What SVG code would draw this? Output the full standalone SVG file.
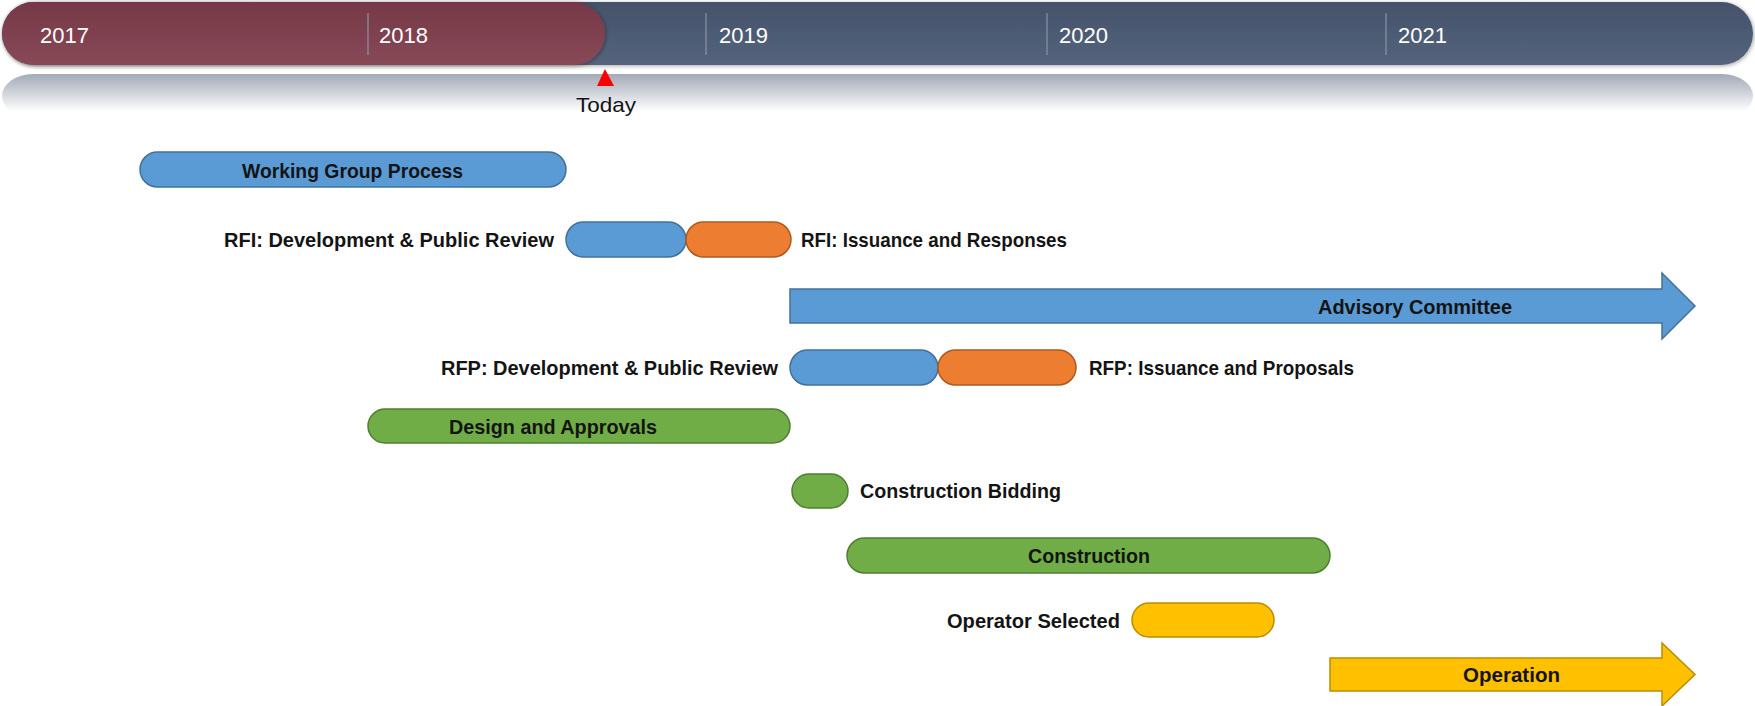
<svg xmlns="http://www.w3.org/2000/svg" width="1755" height="706" viewBox="0 0 1755 706">
  <defs>
    <linearGradient id="gBlueHdr" x1="0" y1="0" x2="0" y2="1">
      <stop offset="0" stop-color="#44526a"/>
      <stop offset="1" stop-color="#55647d"/>
    </linearGradient>
    <linearGradient id="gMaroon" x1="0" y1="0" x2="0" y2="1">
      <stop offset="0" stop-color="#763848"/>
      <stop offset="1" stop-color="#884957"/>
    </linearGradient>
    <linearGradient id="gRefl" x1="0" y1="0" x2="0" y2="1">
      <stop offset="0" stop-color="#a4aab7"/>
      <stop offset="0.4" stop-color="#ccd0d8"/>
      <stop offset="0.85" stop-color="#ffffff"/>
      <stop offset="1" stop-color="#ffffff"/>
    </linearGradient>
    <filter id="sh" x="-5%" y="-20%" width="110%" height="140%">
      <feGaussianBlur in="SourceAlpha" stdDeviation="2"/>
      <feOffset dx="1" dy="1" result="b"/>
      <feComponentTransfer><feFuncA type="linear" slope="0.35"/></feComponentTransfer>
      <feMerge><feMergeNode/><feMergeNode in="SourceGraphic"/></feMerge>
    </filter>
  </defs>
  <style>
    .yr { font-family: "Liberation Sans", Arial, sans-serif; font-size: 22px; fill: #ffffff; }
    .lbl { font-family: "Liberation Sans", Arial, sans-serif; font-size: 21px; font-weight: bold; fill: #141414; }
    .today { font-family: "Liberation Sans", Arial, sans-serif; font-size: 21px; fill: #141414; }
    .div { stroke: #8c93a3; stroke-width: 1.2; }
    .blue { fill: #5b9bd5; stroke: #41719c; stroke-width: 1.5; }
    .orange { fill: #ed7d31; stroke: #ae5a21; stroke-width: 1.5; }
    .green { fill: #70ad47; stroke: #507e32; stroke-width: 1.5; }
    .yellow { fill: #ffc000; stroke: #bc8c00; stroke-width: 1.5; }
  </style>

  <rect width="1755" height="706" fill="#ffffff"/>

  <g id="timeline">
    <rect x="2" y="74" width="1751" height="44" rx="31" fill="url(#gRefl)"/>
    <rect x="2" y="2" width="1751" height="63" rx="31.5" fill="url(#gBlueHdr)" filter="url(#sh)"/>
    <rect x="2" y="2" width="603" height="63" rx="31.5" fill="url(#gMaroon)" filter="url(#sh)"/>
    <line class="div" x1="368" y1="13" x2="368" y2="55"/>
    <line class="div" x1="706" y1="13" x2="706" y2="55"/>
    <line class="div" x1="1047" y1="13" x2="1047" y2="55"/>
    <line class="div" x1="1386" y1="13" x2="1386" y2="55"/>
    <text class="yr" x="40" y="43">2017</text>
    <text class="yr" x="379" y="43">2018</text>
    <text class="yr" x="719" y="43">2019</text>
    <text class="yr" x="1059" y="43">2020</text>
    <text class="yr" x="1398" y="43">2021</text>
  </g>

  <g id="today">
    <polygon points="605,69 597,86 614,86" fill="#ff0000"/>
    <text class="today" x="576" y="112" textLength="60" lengthAdjust="spacingAndGlyphs">Today</text>
  </g>

  <g id="connectors"></g>

  <g id="working-group">
    <rect class="blue" x="140" y="152" width="426" height="35" rx="17.5"/>
    <text class="lbl" x="242" y="178" textLength="221" lengthAdjust="spacingAndGlyphs">Working Group Process</text>
  </g>

  <g id="rfi-development">
    <rect class="blue" x="566" y="222" width="120" height="35" rx="17.5"/>
    <text class="lbl" x="224" y="247" textLength="330" lengthAdjust="spacingAndGlyphs">RFI: Development &amp; Public Review</text>
  </g>
  <g id="rfi-issuance">
    <rect class="orange" x="686" y="222" width="105" height="35" rx="17.5"/>
    <text class="lbl" x="801" y="247" textLength="266" lengthAdjust="spacingAndGlyphs">RFI: Issuance and Responses</text>
  </g>

  <g id="advisory-committee">
    <path class="blue" d="M790,289 H1662 V273 L1695,306 L1662,339 V323 H790 Z"/>
    <text class="lbl" x="1318" y="314" textLength="194" lengthAdjust="spacingAndGlyphs">Advisory Committee</text>
  </g>

  <g id="rfp-development">
    <rect class="blue" x="790" y="350" width="148" height="35" rx="17.5"/>
    <text class="lbl" x="441" y="375" textLength="337" lengthAdjust="spacingAndGlyphs">RFP: Development &amp; Public Review</text>
  </g>
  <g id="rfp-issuance">
    <rect class="orange" x="938" y="350" width="138" height="35" rx="17.5"/>
    <text class="lbl" x="1089" y="375" textLength="265" lengthAdjust="spacingAndGlyphs">RFP: Issuance and Proposals</text>
  </g>

  <g id="design-approvals">
    <rect class="green" x="368" y="409" width="422" height="34" rx="17"/>
    <text class="lbl" x="449" y="434" textLength="208" lengthAdjust="spacingAndGlyphs">Design and Approvals</text>
  </g>

  <g id="construction-bidding">
    <rect class="green" x="792" y="474" width="56" height="34" rx="17"/>
    <text class="lbl" x="860" y="498" textLength="201" lengthAdjust="spacingAndGlyphs">Construction Bidding</text>
  </g>

  <g id="construction">
    <rect class="green" x="847" y="538" width="483" height="35" rx="17.5"/>
    <text class="lbl" x="1028" y="563" textLength="122" lengthAdjust="spacingAndGlyphs">Construction</text>
  </g>

  <g id="operator-selected">
    <rect class="yellow" x="1132" y="603" width="142" height="34" rx="17"/>
    <text class="lbl" x="947" y="628" textLength="173" lengthAdjust="spacingAndGlyphs">Operator Selected</text>
  </g>

  <g id="operation">
    <path class="yellow" d="M1330,658 H1662 V643 L1695,674.5 L1662,706 V691 H1330 Z"/>
    <text class="lbl" x="1463" y="682" textLength="97" lengthAdjust="spacingAndGlyphs">Operation</text>
  </g>
</svg>
